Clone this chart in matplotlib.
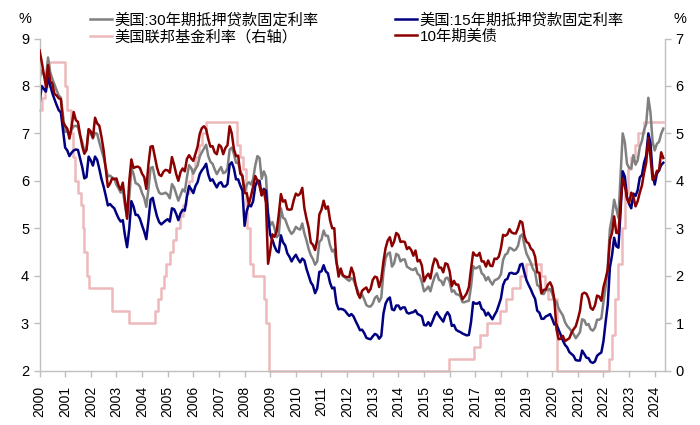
import matplotlib
matplotlib.use('Agg')
import matplotlib.pyplot as plt
import numpy as np
from datetime import date

plt.rcParams['font.family'] = ['Liberation Sans', 'Noto Sans CJK SC', 'DejaVu Sans']

# ---- data (monthly, Jan 2000 - May 2024) ----
mort30 = [
    8.15, 8.33, 8.24, 8.15, 8.60, 8.29, 8.15, 8.03, 7.91, 7.80, 7.75, 7.38,
    7.03, 7.05, 6.95, 7.08, 7.15, 7.16, 7.13, 6.95, 6.82, 6.62, 6.66, 7.07,
    7.00, 6.89, 7.01, 6.99, 6.81, 6.65, 6.49, 6.29, 6.09, 6.11, 6.07, 6.05,
    5.92, 5.84, 5.75, 5.81, 5.48, 5.23, 5.63, 6.26, 6.15, 5.95, 5.93, 5.88,
    5.74, 5.64, 5.45, 5.83, 6.27, 6.29, 6.06, 5.87, 5.75, 5.72, 5.73, 5.75,
    5.71, 5.63, 5.93, 5.86, 5.72, 5.58, 5.70, 5.82, 5.77, 6.07, 6.33, 6.27,
    6.15, 6.25, 6.32, 6.51, 6.60, 6.68, 6.76, 6.52, 6.40, 6.36, 6.24, 6.14,
    6.22, 6.29, 6.16, 6.18, 6.26, 6.66, 6.70, 6.57, 6.38, 6.38, 6.21, 6.10,
    5.76, 5.92, 5.97, 5.92, 6.04, 6.32, 6.52, 6.48, 6.04, 6.20, 6.09, 5.33,
    5.06, 5.13, 5.00, 4.81, 4.86, 5.42, 5.22, 5.19, 5.06, 4.95, 4.88, 4.93,
    5.03, 4.99, 4.97, 5.10, 4.89, 4.74, 4.56, 4.43, 4.35, 4.23, 4.30, 4.71,
    4.76, 4.95, 4.84, 4.84, 4.64, 4.51, 4.55, 4.27, 4.11, 4.07, 3.99, 3.96,
    3.92, 3.89, 3.95, 3.91, 3.80, 3.68, 3.55, 3.60, 3.50, 3.38, 3.35, 3.35,
    3.41, 3.53, 3.57, 3.45, 3.54, 4.07, 4.37, 4.46, 4.49, 4.19, 4.26, 4.46,
    4.43, 4.30, 4.34, 4.34, 4.19, 4.16, 4.13, 4.12, 4.16, 4.04, 4.00, 3.86,
    3.67, 3.71, 3.77, 3.67, 3.84, 3.98, 4.05, 3.91, 3.89, 3.80, 3.94, 3.96,
    3.87, 3.66, 3.69, 3.61, 3.60, 3.57, 3.44, 3.44, 3.46, 3.47, 3.77, 4.20,
    4.15, 4.17, 4.20, 4.05, 4.01, 3.90, 3.97, 3.88, 3.81, 3.90, 3.92, 3.95,
    4.03, 4.33, 4.44, 4.47, 4.59, 4.57, 4.53, 4.55, 4.63, 4.83, 4.87, 4.64,
    4.46, 4.37, 4.27, 4.14, 4.07, 3.80, 3.77, 3.62, 3.61, 3.69, 3.70, 3.72,
    3.62, 3.47, 3.45, 3.31, 3.23, 3.16, 3.02, 2.94, 2.89, 2.83, 2.77, 2.68,
    2.74, 2.81, 3.08, 3.06, 2.96, 2.98, 2.87, 2.84, 2.90, 3.07, 3.07, 3.10,
    3.45, 3.76, 4.17, 4.98, 5.23, 5.60, 5.41, 5.22, 6.11, 7.00, 6.81, 6.36,
    6.27, 6.26, 6.54, 6.34, 6.43, 6.71, 6.84, 7.07, 7.20, 7.75, 7.44, 6.82,
    6.64, 6.78, 6.82, 6.99, 7.10,
]

mort15 = [
    7.60, 8.00, 7.94, 7.88, 8.17, 8.01, 7.85, 7.72, 7.60, 7.49, 7.44, 7.07,
    6.70, 6.64, 6.52, 6.59, 6.64, 6.66, 6.65, 6.47, 6.29, 6.05, 6.08, 6.51,
    6.43, 6.32, 6.51, 6.44, 6.25, 6.04, 5.88, 5.69, 5.48, 5.51, 5.46, 5.42,
    5.31, 5.21, 5.14, 5.17, 4.85, 4.60, 4.98, 5.57, 5.46, 5.28, 5.28, 5.20,
    5.06, 4.93, 4.77, 5.16, 5.60, 5.64, 5.43, 5.25, 5.13, 5.08, 5.12, 5.16,
    5.19, 5.14, 5.42, 5.40, 5.30, 5.17, 5.31, 5.39, 5.37, 5.66, 5.89, 5.82,
    5.74, 5.89, 5.97, 6.14, 6.22, 6.28, 6.36, 6.13, 6.00, 6.03, 5.94, 5.86,
    5.95, 5.97, 5.88, 5.88, 5.93, 6.34, 6.39, 6.26, 6.03, 6.03, 5.90, 5.79,
    5.05, 5.36, 5.50, 5.46, 5.57, 5.89, 6.00, 6.00, 5.70, 5.83, 5.79, 5.26,
    4.86, 4.76, 4.62, 4.52, 4.49, 4.85, 4.70, 4.64, 4.47, 4.40, 4.30, 4.38,
    4.44, 4.35, 4.28, 4.36, 4.32, 4.14, 4.00, 3.86, 3.79, 3.63, 3.73, 4.08,
    4.09, 4.22, 4.09, 4.05, 3.85, 3.73, 3.75, 3.42, 3.29, 3.30, 3.29, 3.26,
    3.20, 3.15, 3.19, 3.14, 3.04, 2.95, 2.85, 2.86, 2.79, 2.69, 2.67, 2.66,
    2.72, 2.77, 2.75, 2.67, 2.73, 3.20, 3.41, 3.50, 3.54, 3.29, 3.27, 3.37,
    3.37, 3.29, 3.33, 3.33, 3.22, 3.20, 3.22, 3.23, 3.27, 3.19, 3.17, 3.14,
    2.96, 2.95, 3.02, 2.94, 3.04, 3.16, 3.23, 3.15, 3.09, 3.03, 3.16, 3.23,
    3.16, 2.94, 2.96, 2.86, 2.83, 2.81, 2.78, 2.76, 2.74, 2.75, 3.02, 3.44,
    3.41, 3.41, 3.44, 3.30, 3.27, 3.16, 3.22, 3.15, 3.08, 3.17, 3.25, 3.38,
    3.52, 3.80, 3.91, 3.93, 4.05, 4.06, 4.04, 4.04, 4.08, 4.23, 4.25, 4.06,
    3.90, 3.80, 3.71, 3.60, 3.51, 3.26, 3.22, 3.09, 3.09, 3.14, 3.16, 3.19,
    3.09, 2.97, 2.97, 2.86, 2.75, 2.63, 2.54, 2.49, 2.39, 2.35, 2.31, 2.22,
    2.21, 2.21, 2.42, 2.35, 2.27, 2.26, 2.18, 2.16, 2.19, 2.31, 2.35, 2.38,
    2.62, 3.02, 3.39, 4.17, 4.43, 4.80, 4.62, 4.59, 5.35, 6.20, 6.09, 5.66,
    5.51, 5.42, 5.73, 5.68, 5.80, 6.07, 6.12, 6.38, 6.53, 7.00, 6.79, 6.15,
    5.92, 6.15, 6.22, 6.33, 6.38,
]

ust10 = [
    6.75, 6.52, 6.26, 5.99, 6.44, 6.10, 6.05, 5.83, 5.80, 5.74, 5.72, 5.24,
    5.16, 5.10, 4.89, 5.14, 5.45, 5.28, 5.24, 4.97, 4.73, 4.57, 4.65, 5.09,
    5.04, 4.91, 5.33, 5.21, 5.16, 4.93, 4.65, 4.26, 3.87, 3.94, 4.05, 4.03,
    4.05, 3.90, 3.81, 3.96, 3.57, 3.20, 3.98, 4.45, 4.27, 4.29, 4.30, 4.27,
    4.15, 4.08, 3.83, 4.35, 4.72, 4.73, 4.50, 4.28, 4.13, 4.10, 4.19, 4.23,
    4.22, 4.17, 4.50, 4.34, 4.14, 4.00, 4.18, 4.26, 4.20, 4.46, 4.54, 4.47,
    4.42, 4.57, 4.72, 4.99, 5.11, 5.15, 5.09, 4.88, 4.72, 4.73, 4.60, 4.56,
    4.76, 4.72, 4.56, 4.69, 4.75, 5.15, 5.00, 4.67, 4.52, 4.53, 4.15, 4.10,
    3.74, 3.74, 3.51, 3.68, 3.88, 4.10, 4.01, 3.89, 3.69, 3.81, 3.53, 2.25,
    2.52, 2.87, 2.82, 2.93, 3.29, 3.72, 3.56, 3.59, 3.40, 3.39, 3.40, 3.59,
    3.73, 3.69, 3.73, 3.85, 3.42, 3.20, 3.01, 2.70, 2.65, 2.54, 2.76, 3.29,
    3.39, 3.58, 3.41, 3.46, 3.17, 3.00, 3.00, 2.30, 1.98, 2.15, 2.01, 1.98,
    1.97, 1.97, 2.17, 2.05, 1.80, 1.62, 1.53, 1.68, 1.72, 1.75, 1.65, 1.72,
    1.91, 1.98, 1.96, 1.76, 1.93, 2.30, 2.58, 2.74, 2.81, 2.62, 2.72, 2.90,
    2.86, 2.71, 2.72, 2.71, 2.56, 2.60, 2.54, 2.42, 2.53, 2.30, 2.33, 2.21,
    1.88, 1.98, 2.04, 1.94, 2.20, 2.36, 2.32, 2.17, 2.17, 2.07, 2.26, 2.24,
    2.09, 1.78, 1.89, 1.81, 1.81, 1.64, 1.50, 1.56, 1.63, 1.76, 2.14, 2.49,
    2.43, 2.42, 2.48, 2.30, 2.30, 2.19, 2.32, 2.21, 2.20, 2.36, 2.35, 2.40,
    2.58, 2.86, 2.84, 2.87, 2.98, 2.91, 2.89, 2.89, 3.00, 3.15, 3.12, 2.83,
    2.71, 2.68, 2.57, 2.53, 2.40, 2.07, 2.06, 1.63, 1.70, 1.71, 1.81, 1.86,
    1.76, 1.50, 0.87, 0.66, 0.67, 0.73, 0.62, 0.65, 0.68, 0.79, 0.87, 0.93,
    1.08, 1.26, 1.61, 1.64, 1.62, 1.52, 1.32, 1.28, 1.37, 1.58, 1.56, 1.47,
    1.76, 1.93, 2.13, 2.75, 2.90, 3.25, 2.90, 2.90, 3.52, 4.05, 3.89, 3.62,
    3.53, 3.75, 3.66, 3.46, 3.57, 3.75, 3.90, 4.17, 4.38, 4.90, 4.50, 4.02,
    4.06, 4.21, 4.21, 4.60, 4.48,
]

# Fed funds target (lower bound): change dates and levels
ff_dates = [
    "2000-01-01", "2000-02-02", "2000-03-21", "2000-05-16", "2001-01-03", "2001-01-31",
    "2001-03-20", "2001-04-18", "2001-05-15", "2001-06-27", "2001-08-21", "2001-09-17",
    "2001-10-02", "2001-11-06", "2001-12-11", "2002-11-06", "2003-06-25", "2004-06-30",
    "2004-08-10", "2004-09-21", "2004-11-10", "2004-12-14", "2005-02-02", "2005-03-22",
    "2005-05-03", "2005-06-30", "2005-08-09", "2005-09-20", "2005-11-01", "2005-12-13",
    "2006-01-31", "2006-03-28", "2006-05-10", "2006-06-29", "2007-09-18", "2007-10-31",
    "2007-12-11", "2008-01-22", "2008-01-30", "2008-03-18", "2008-04-30", "2008-10-08",
    "2008-10-29", "2008-12-16", "2015-12-16", "2016-12-14", "2017-03-15", "2017-06-14",
    "2017-12-13", "2018-03-21", "2018-06-13", "2018-09-26", "2018-12-19", "2019-07-31",
    "2019-09-18", "2019-10-30", "2020-03-03", "2020-03-15", "2022-03-16", "2022-05-04",
    "2022-06-15", "2022-07-27", "2022-09-21", "2022-11-02", "2022-12-14", "2023-02-01",
    "2023-03-22", "2023-05-03", "2023-07-26", "2024-05-01",
]
ff_rates = [
    5.50, 5.75, 6.00, 6.50, 6.00, 5.50,
    5.00, 4.50, 4.00, 3.75, 3.50, 3.00,
    2.50, 2.00, 1.75, 1.25, 1.00, 1.25,
    1.50, 1.75, 2.00, 2.25, 2.50, 2.75,
    3.00, 3.25, 3.50, 3.75, 4.00, 4.25,
    4.50, 4.75, 5.00, 5.25, 4.75, 4.50,
    4.25, 3.50, 3.00, 2.25, 2.00, 1.50,
    1.00, 0.00, 0.25, 0.50, 0.75, 1.00,
    1.25, 1.50, 1.75, 2.00, 2.25, 2.00,
    1.75, 1.50, 1.00, 0.00, 0.25, 0.75,
    1.50, 2.25, 3.00, 3.75, 4.25, 4.50,
    4.75, 5.00, 5.25, 5.25,
]

year_ticks = list(range(2000, 2025))

labels = ["美国:30年期抵押贷款固定利率", "美国:15年期抵押贷款固定利率",
          "美国联邦基金利率（右轴）", "10年期美债"]

# ---- derived x positions ----
n = len(mort30)
xm = 2000 + np.arange(n) / 12.0


def dec_year(s):
    d = date.fromisoformat(s)
    start = date(d.year, 1, 1)
    return d.year + (d - start).days / 365.0


xf = np.array([dec_year(s) for s in ff_dates])

# ---- figure ----
fig = plt.figure(figsize=(7, 4.25), dpi=100)
L, R, T, B = 39.5 / 700, 665 / 700, 1 - 38.5 / 425, 1 - 370.5 / 425
ax = fig.add_axes([L, B, R - L, T - B])
ax_ff = ax.twinx()
ax_top = ax.twinx()

ax_ff.set_zorder(1)
ax.set_zorder(2)
ax_top.set_zorder(3)
ax.patch.set_visible(False)
ax_top.patch.set_visible(False)

c_gray = "#808080"
c_blue = "#000080"
c_pink = "#EDB9BC"
c_red = "#8B0000"
lw = 1.8

h_ff, = ax_ff.step(xf, ff_rates, where="post", color=c_pink, lw=lw, clip_on=False)
h30, = ax.plot(xm, mort30, color=c_gray, lw=lw)
h15, = ax.plot(xm, mort15, color=c_blue, lw=lw)
h10, = ax_top.plot(xm, ust10, color=c_red, lw=lw)

ax.set_xlim(2000, 2024.4)
ax.set_ylim(2, 9)
ax_ff.set_ylim(0, 7)
ax_top.set_ylim(0, 7)

spine_c = "#BFBFBF"
for a in (ax, ax_ff, ax_top):
    for s in a.spines.values():
        s.set_visible(False)
ax.spines["left"].set_visible(True)
ax.spines["bottom"].set_visible(True)
ax_ff.spines["right"].set_visible(True)
for s in (ax.spines["left"], ax.spines["bottom"], ax_ff.spines["right"]):
    s.set_color(spine_c)
    s.set_linewidth(1.0)

ax.set_xticks(year_ticks)
ax.set_xticklabels([str(y) for y in year_ticks], rotation=90)
ax.set_yticks(range(2, 10))
ax_ff.set_yticks(range(0, 8))
ax.tick_params(axis="y", colors=spine_c, labelcolor="black", labelsize=10.5, length=4, width=1)
ax.tick_params(axis="x", colors=spine_c, labelcolor="black", labelsize=10, length=4, width=1, pad=7)
ax_ff.tick_params(axis="y", colors=spine_c, labelcolor="black", labelsize=10.5, length=4, width=1)
ax_top.set_yticks([])
ax_top.tick_params(axis="both", length=0, labelleft=False, labelright=False)

fig.text(25 / 700, 1 - 19 / 425, "%", ha="center", va="center", fontsize=10.5)
fig.text(680 / 700, 1 - 19 / 425, "%", ha="center", va="center", fontsize=10.5)

fig.legend([h30, h_ff, h15, h10], [labels[0], labels[2], labels[1], labels[3]],
           ncol=2, loc="upper left", bbox_to_anchor=(90 / 700, 1 - 13 / 425),
           frameon=False, fontsize=11, handlelength=1.45, handletextpad=0.15,
           columnspacing=5.0, labelspacing=0.12, borderpad=0, borderaxespad=0)

fig.savefig("out.png", dpi=100)
